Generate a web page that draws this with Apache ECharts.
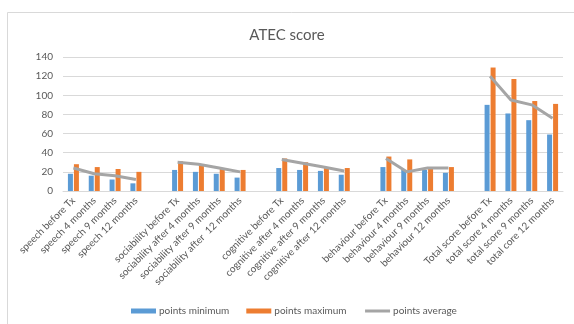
<!DOCTYPE html>
<html>
<head>
<meta charset="utf-8">
<script src="https://cdn.jsdelivr.net/npm/echarts@6/dist/echarts.min.js"></script>
<style>
  html, body { margin: 0; padding: 0; background: #fff; }
  #chart { width: 574px; height: 324px; }
</style>
</head>
<body>
<div id="chart"></div>
<script>
// Category axis: four domains plus the total, separated by empty slots
const categories = [
  'speech before Tx', 'speech 4 months', 'speech 9 months', 'speech 12 months', '',
  'sociability before Tx', 'sociability after 4 months', 'sociability after 9 months', 'sociability after  12 months', ' ',
  'cognitive before Tx', 'cognitive after 4 months', 'cognitive after 9 months', 'cognitive after 12 months', '  ',
  'behaviour before Tx', 'behaviour 4 months', 'behaviour 9 months', 'behaviour 12 months', '   ',
  'Total score before Tx', 'total score 4 months', 'total score 9 months', 'total core 12 months'
];

const pointsMinimum = [
  18, 16, 12, 8, null,
  22, 20, 18, 14, null,
  24, 22, 21, 17, null,
  25, 22, 22, 19, null,
  90, 81, 74, 59
];

const pointsMaximum = [
  28, 25, 23, 20, null,
  31, 28, 23, 22, null,
  34, 30, 24, 24, null,
  36, 33, 23, 25, null,
  129, 117, 94, 91
];

const pointsAverage = [
  24, 18, 16, 12, null,
  30, 28, 24, 20, null,
  33, 29, 25, 21, null,
  34, 20, 24, 24, null,
  120, 95, 90, 76
];

const yTicks = { min: 0, max: 140, interval: 20 };

const textColor = '#595959';
const fontFamily = 'Lato, "Open Sans", sans-serif';

const chart = echarts.init(document.getElementById('chart'), null, { renderer: 'canvas' });

chart.setOption({
  animation: false,
  backgroundColor: '#ffffff',
  textStyle: { fontFamily: fontFamily, color: textColor },
  graphic: [{
    type: 'rect',
    shape: { x: 7.5, y: 12.5, width: 620, height: 400 },
    style: { fill: 'none', stroke: '#d9d9d9', lineWidth: 1 },
    silent: true
  }],
  title: {
    text: 'ATEC score',
    left: 'center',
    top: 23,
    textStyle: { fontFamily: fontFamily, fontSize: 15, fontWeight: 'normal', color: textColor }
  },
  legend: {
    bottom: 3,
    left: 126,
    itemWidth: 25,
    itemHeight: 5,
    itemGap: 17,
    textStyle: { fontFamily: fontFamily, fontSize: 10, color: textColor, padding: [0, 0, 0, -2] },
    data: [
      { name: 'points minimum', icon: 'rect' },
      { name: 'points maximum', icon: 'rect' },
      { name: 'points average', itemStyle: { opacity: 0 }, lineStyle: { width: 3, color: '#a5a5a5' } }
    ]
  },
  grid: { left: 63, right: 11, top: 57, bottom: 133, containLabel: false },
  xAxis: {
    type: 'category',
    data: categories,
    axisLine: { lineStyle: { color: '#d9d9d9' } },
    axisTick: { show: false },
    axisLabel: {
      interval: 0,
      rotate: 45,
      margin: 8,
      fontFamily: fontFamily,
      fontSize: 10,
      color: textColor
    }
  },
  yAxis: {
    type: 'value',
    min: yTicks.min,
    max: yTicks.max,
    interval: yTicks.interval,
    axisLine: { show: false },
    axisTick: { show: false },
    axisLabel: { margin: 10, fontFamily: fontFamily, fontSize: 10, color: textColor },
    splitLine: { lineStyle: { color: '#d9d9d9' } }
  },
  series: [
    {
      name: 'points minimum',
      type: 'bar',
      data: pointsMinimum,
      barWidth: 5,
      barGap: '20%',
      itemStyle: { color: '#5b9bd5' }
    },
    {
      name: 'points maximum',
      type: 'bar',
      data: pointsMaximum,
      barWidth: 5,
      itemStyle: { color: '#ed7d31' }
    },
    {
      name: 'points average',
      type: 'line',
      data: pointsAverage,
      symbol: 'none',
      connectNulls: false,
      lineStyle: { color: '#a5a5a5', width: 3 },
      itemStyle: { color: '#a5a5a5' },
      z: 3
    }
  ]
});
</script>
</body>
</html>
